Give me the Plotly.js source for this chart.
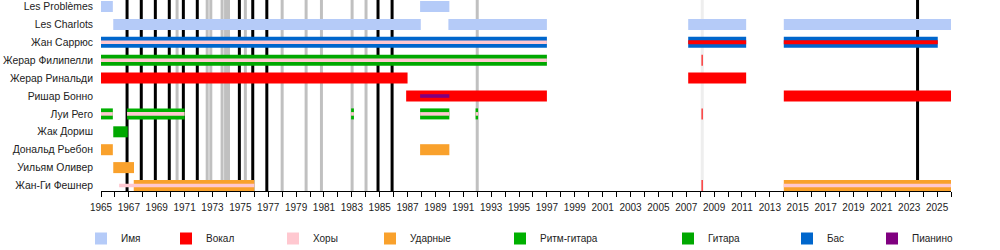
<!DOCTYPE html>
<html><head><meta charset="utf-8">
<script src="https://cdn.plot.ly/plotly-3.0.1.min.js"></script>
<style>html,body{margin:0;padding:0;background:#fff}#chart{width:1000px;height:250px}</style>
</head><body><div id="chart"></div>
<script>
// Rows (top to bottom)
const members = ["Les Problèmes","Les Charlots","Жан Саррюс","Жерар Филипелли","Жерар Ринальди","Ришар Бонно","Луи Рего","Жак Дориш","Дональд Рьебон","Уильям Оливер","Жан-Ги Фешнер"];

// Role legend labels
const roleNames = ["Имя","Вокал","Хоры","Ударные","Ритм-гитара","Гитара","Бас","Пианино"];
const roleColors = ["#b5cbf8","#ff0000","#ffc8d0","#f9a12c","#00b000","#00a800","#0066cc","#800080"];

// Full-height bars, per role: member, start year, end year
const nameMember = ["Les Problèmes","Les Problèmes","Les Charlots","Les Charlots","Les Charlots","Les Charlots"];
const nameStart  = [1965.0, 1987.9, 1965.88, 1989.93, 2007.14, 2014.0];
const nameEnd    = [1965.85, 1990.0, 1987.95, 1997.0, 2011.3, 2026.0];

const bassMember = ["Жан Саррюс","Жан Саррюс","Жан Саррюс"];
const bassStart  = [1965.0, 2007.14, 2014.0];
const bassEnd    = [1997.0, 2011.3, 2025.05];

const vocalMember = ["Жерар Ринальди","Жерар Ринальди","Ришар Бонно","Ришар Бонно","Жерар Филипелли","Луи Рего","Жан-Ги Фешнер"];
const vocalStart  = [1965.0, 2007.14, 1986.9, 2014.0, 2008.1, 2008.1, 2008.1];
const vocalEnd    = [1987.0, 2011.3, 1997.0, 2026.0, 2008.18, 2008.18, 2008.18];

const rhythmMember = ["Луи Рего","Луи Рего","Луи Рего","Луи Рего","Луи Рего"];
const rhythmStart  = [1965.0, 1966.87, 1982.95, 1987.9, 1991.88];
const rhythmEnd    = [1965.85, 1971.0, 1983.15, 1990.0, 1992.06];

const guitarMember = ["Жерар Филипелли","Жак Дориш"];
const guitarStart  = [1965.0, 1965.88];
const guitarEnd    = [1997.0, 1966.92];

const drumsMember = ["Дональд Рьебон","Дональд Рьебон","Уильям Оливер","Жан-Ги Фешнер","Жан-Ги Фешнер"];
const drumsStart  = [1965.0, 1987.9, 1965.88, 1967.35, 2014.0];
const drumsEnd    = [1965.85, 1990.0, 1967.37, 1976.0, 2026.0];

// Thin centre stripes
const backingMember = ["Жан Саррюс","Жерар Филипелли","Луи Рего","Луи Рего","Луи Рего","Луи Рего","Луи Рего","Жан-Ги Фешнер","Жан-Ги Фешнер"];
const backingStart  = [1965.0, 1965.0, 1965.0, 1966.87, 1982.95, 1987.9, 1991.88, 1966.3, 2014.0];
const backingEnd    = [1997.0, 1997.0, 1965.85, 1971.0, 1983.15, 1990.0, 1992.06, 1976.0, 2026.0];

const vocalStripeMember = ["Жан Саррюс","Жан Саррюс"];
const vocalStripeStart  = [2007.14, 2014.0];
const vocalStripeEnd    = [2011.3, 2025.05];

const pianoMember = ["Ришар Бонно"];
const pianoStart  = [1987.9];
const pianoEnd    = [1990.0];

// Release markers (vertical lines)
const albumYears  = [1966.87, 1967.89, 1968.9, 1969.9, 1970.91, 1971.91, 1974.93, 1975.89, 1976.9, 1984.88, 1985.89, 2023.6];
const singleYears = [1970.46, 1972.62, 1972.88, 1973.69, 1973.94, 1974.15, 1975.36, 1978.0, 1979.72, 1980.82, 1983.02, 1984.02, 1992.0];
const otherYears  = [2008.15];

// Ticks
const tickYears = [];
for (let y = 1965; y <= 2025; y += 2) tickYears.push(y);

const FULL = 0.615, STRIPE = 0.2;
const idx = m => members.indexOf(m);

function barTrace(mem, st, en, role, width, legendShown) {
  const r = roleNames.indexOf(role);
  return {
    type: 'bar', orientation: 'h',
    y: mem.map(idx),
    base: st,
    x: st.map((s, i) => en[i] - s),
    width: width,
    marker: {color: roleColors[r], line: {width: 0}},
    name: role,
    legend: r === 0 ? 'legend' : 'legend' + (r + 1),
    showlegend: legendShown,
    hoverinfo: 'skip'
  };
}

const traces = [
  barTrace(nameMember, nameStart, nameEnd, "Имя", FULL, true),
  barTrace(bassMember, bassStart, bassEnd, "Бас", FULL, true),
  barTrace(vocalMember, vocalStart, vocalEnd, "Вокал", FULL, true),
  barTrace(rhythmMember, rhythmStart, rhythmEnd, "Ритм-гитара", FULL, true),
  barTrace(guitarMember, guitarStart, guitarEnd, "Гитара", FULL, true),
  barTrace(drumsMember, drumsStart, drumsEnd, "Ударные", FULL, true),
  barTrace(backingMember, backingStart, backingEnd, "Хоры", STRIPE, true),
  barTrace(vocalStripeMember, vocalStripeStart, vocalStripeEnd, "Вокал", 0.23, false),
  barTrace(pianoMember, pianoStart, pianoEnd, "Пианино", STRIPE, true)
];

const shapes = [];
function vline(x, color) {
  shapes.push({type: 'line', xref: 'x', yref: 'paper', x0: x, x1: x, y0: 0, y1: 1,
    line: {color: color, width: 3}, layer: 'below'});
}
otherYears.forEach(x => vline(x, '#eeeeee'));
singleYears.forEach(x => vline(x, '#c0c0c0'));
albumYears.forEach(x => vline(x, '#000000'));

// Legend swatch centres (px)
const legendX = [104, 189, 296, 393, 523, 691, 810, 895];
const layout = {
  width: 1000, height: 250,
  margin: {l: 101, r: 49, t: 0, b: 59},
  paper_bgcolor: '#fff', plot_bgcolor: '#fff',
  barmode: 'overlay',
  font: {family: 'Liberation Sans, Arial, sans-serif', size: 10, color: '#222'},
  xaxis: {
    range: [1965, 2026], tickmode: 'array', tickvals: tickYears, ticktext: tickYears.map(String),
    showgrid: false, zeroline: false, showline: true, linecolor: '#000', linewidth: 1,
    ticks: 'outside', ticklen: 5, tickcolor: '#000', tickwidth: 1, ticklabelstandoff: 2,
    minor: {dtick: 1, tick0: 1965, ticks: 'outside', ticklen: 5, tickcolor: '#000', tickwidth: 1, showgrid: false},
    tickfont: {size: 10, color: '#222'}
  },
  yaxis: {
    range: [10.307, -0.363], tickmode: 'array', tickvals: members.map((m, i) => i), ticktext: members,
    showgrid: false, zeroline: false, showline: false, ticks: '', ticklabelstandoff: 7,
    tickfont: {size: 10.4, color: '#222'}
  },
  shapes: shapes
};
roleNames.forEach((r, i) => {
  const key = i === 0 ? 'legend' : 'legend' + (i + 1);
  layout[key] = {
    x: (legendX[i] - 23) / 1000, xref: 'container', xanchor: 'left',
    y: 11.5 / 250, yref: 'container', yanchor: 'middle',
    orientation: 'h', bgcolor: 'rgba(0,0,0,0)', borderwidth: 0,
    font: {size: 10, color: '#222'}, itemclick: false, itemdoubleclick: false
  };
});

Plotly.newPlot('chart', traces, layout, {displayModeBar: false, staticPlot: true});
</script></body></html>
